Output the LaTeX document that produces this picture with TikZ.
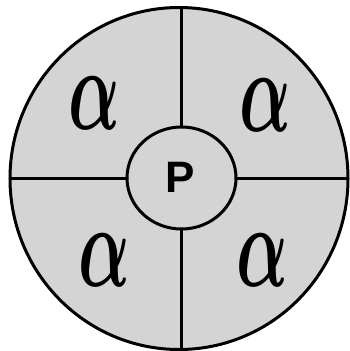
\documentclass[tikz,border=0pt]{standalone}
\usepackage{fontspec}
\usepackage{graphicx}
\newfontfamily\psans{Liberation Sans}
\usetikzlibrary{shapes.geometric}
\definecolor{panel}{RGB}{212,212,212}
\newcommand{\bigalpha}{\scalebox{6.8}[11.8]{\boldmath$\alpha$}}
\tikzset{
  ring/.style={ellipse, draw=black, line width=3pt, fill=panel, inner sep=0pt, outer sep=0pt},
  divider/.style={line width=3pt},
  alphalabel/.style={inner sep=0pt},
  plabel/.style={font=\psans\bfseries\fontsize{44}{44}\selectfont, inner sep=0pt}
}
\begin{document}
\begin{tikzpicture}[x=1pt,y=-1pt]
\useasboundingbox (0,0) rectangle (349,351);
\node[ring, minimum width=338pt, minimum height=342pt] (outer) at (179,178.5) {};
\node[ring, minimum width=109pt, minimum height=102pt] (inner) at (181.5,178) {};
\node[plabel] (p) at (180,177) {P};
\draw[divider] (inner.north) -- (inner.north |- outer.north);
\draw[divider] (inner.south) -- (inner.south |- outer.south);
\draw[divider] (inner.west) -- (outer.west |- inner.west);
\draw[divider] (inner.east) -- (outer.east |- inner.east);
\node[alphalabel] (a1) at (94,103) {\bigalpha};
\node[alphalabel] (a2) at (265,105) {\bigalpha};
\node[alphalabel] (a3) at (104,260) {\bigalpha};
\node[alphalabel] (a4) at (262,260) {\bigalpha};
\end{tikzpicture}
\end{document}
